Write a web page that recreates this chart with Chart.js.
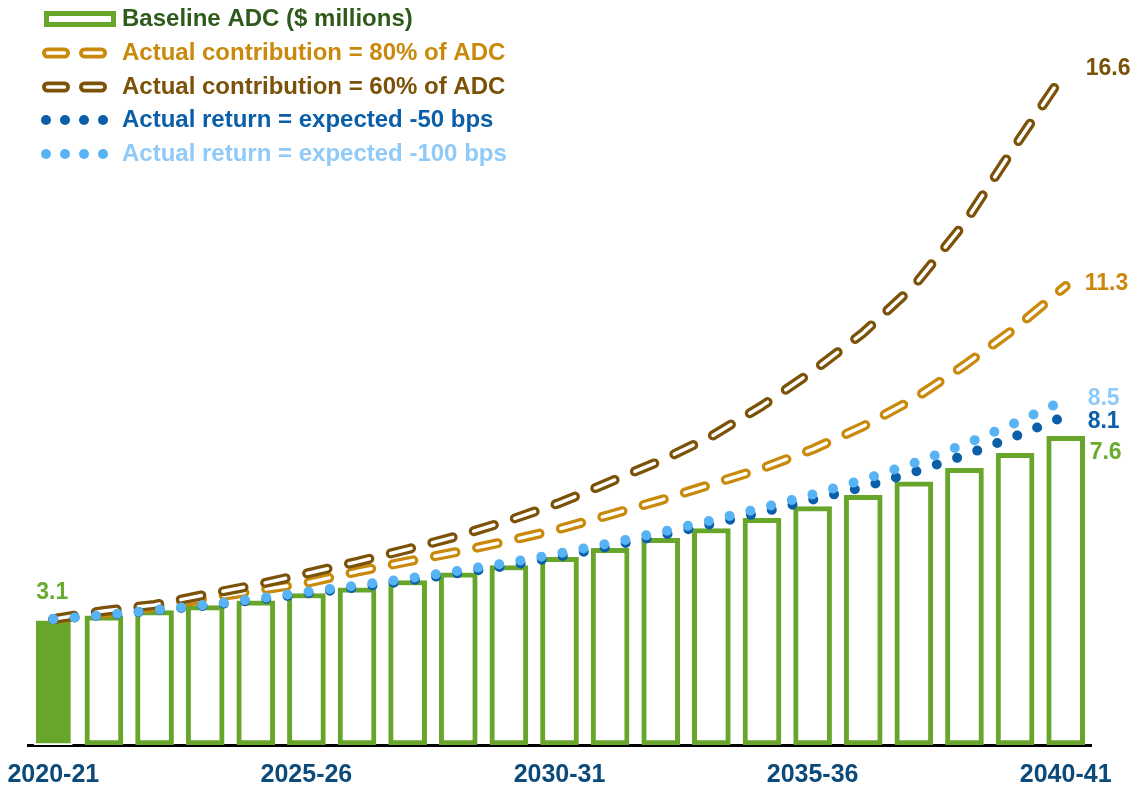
<!DOCTYPE html>
<html>
<head>
<meta charset="utf-8">
<script src="https://cdn.jsdelivr.net/npm/chart.js@4.4.1/dist/chart.umd.min.js"></script>
<style>
  html, body { margin: 0; padding: 0; background: #ffffff; }
  #wrap { width: 1138px; height: 787px; position: relative; }
  canvas { display: block; }
</style>
</head>
<body>
<div id="wrap"><canvas id="c" width="1138" height="787"></canvas></div>
<script>
// ---- DATA ----
const categories = ['2020-21','2021-22','2022-23','2023-24','2024-25','2025-26','2026-27','2027-28','2028-29','2029-30','2030-31','2031-32','2032-33','2033-34','2034-35','2035-36','2036-37','2037-38','2038-39','2039-40','2040-41'];
const tickLabels = ['2020-21','2025-26','2030-31','2035-36','2040-41'];
const baselineADC = [3.10,3.18,3.31,3.43,3.55,3.73,3.87,4.05,4.24,4.42,4.62,4.84,5.09,5.33,5.58,5.87,6.15,6.48,6.81,7.18,7.60];
const contrib80 = [3.10,3.25,3.40,3.60,3.80,3.99,4.27,4.52,4.76,5.03,5.32,5.67,6.03,6.42,6.81,7.28,7.85,8.52,9.35,10.26,11.30];
const contrib60 = [3.10,3.30,3.45,3.70,3.94,4.22,4.51,4.82,5.15,5.53,5.96,6.48,7.00,7.60,8.35,9.20,10.15,11.30,12.85,14.75,16.60];
const return50 = [3.10,3.19,3.31,3.43,3.57,3.73,3.88,4.04,4.23,4.42,4.64,4.89,5.16,5.44,5.73,6.04,6.35,6.72,7.13,7.60,8.10];
const return100 = [3.10,3.20,3.32,3.45,3.60,3.77,3.93,4.10,4.29,4.49,4.72,4.97,5.24,5.53,5.84,6.17,6.53,6.94,7.40,7.93,8.50];
const seriesNames = ['Baseline ADC ($ millions)','Actual contribution = 80% of ADC','Actual contribution = 60% of ADC','Actual return = expected -50 bps','Actual return = expected -100 bps'];

// ---- STYLE ----
const GREEN = '#67a62a', GREEN_TXT = '#6aab2e', GREEN_DARK = '#2e5b1c';
const ORANGE = '#c98a0c', BROWN = '#7b5207';
const BLUE = '#0b5fa8', LBLUE = '#58b3f5', LBLUE_TXT = '#8fcaf8';
const AXIS_TXT = '#0c4a79';
const FONT = '"Liberation Sans", Arial, Helvetica, sans-serif';
Chart.defaults.font.family = FONT;

const DASH = [21, 22];
const DOT = [0, 21.4];

// inner white stroke for hollow dashed lines
const hollowPlugin = {
  id: 'hollow',
  afterDatasetDraw(chart, args) {
    const ds = chart.data.datasets[args.index];
    if (!ds.hollow) return;
    const pts = args.meta.data;
    const ctx = chart.ctx;
    const a = chart.chartArea;
    ctx.save();
    ctx.beginPath();
    ctx.rect(a.left - 10, a.top - 10, a.right - a.left + 20, a.bottom - a.top + 20);
    ctx.clip();
    ctx.setLineDash(DASH);
    ctx.lineDashOffset = 0;
    ctx.lineCap = 'round';
    ctx.lineJoin = 'round';
    ctx.lineWidth = 3.5;
    ctx.strokeStyle = '#ffffff';
    ctx.beginPath();
    pts.forEach((p, i) => { if (i === 0) ctx.moveTo(p.x, p.y); else ctx.lineTo(p.x, p.y); });
    ctx.stroke();
    ctx.restore();
  }
};

// end labels + first bar label
const labelPlugin = {
  id: 'endLabels',
  afterDraw(chart) {
    const ctx = chart.ctx;
    ctx.save();
    ctx.font = 'bold 23px ' + FONT;
    ctx.textBaseline = 'middle';
    chart.data.datasets.forEach((ds, i) => {
      if (!ds.endLabel) return;
      const meta = chart.getDatasetMeta(i);
      const last = meta.data[meta.data.length - 1];
      const v = ds.data[ds.data.length - 1];
      ctx.fillStyle = ds.endLabel.color;
      ctx.textAlign = 'left';
      ctx.fillText(v.toFixed(1), last.x + ds.endLabel.dx, last.y + ds.endLabel.dy);
      if (ds.firstLabel) {
        const first = meta.data[0];
        ctx.textAlign = 'center';
        ctx.fillText(ds.data[0].toFixed(1), first.x - 1, first.y + ds.firstLabel.dy);
      }
    });
    ctx.restore();
  }
};

// legend drawn on canvas
const legendPlugin = {
  id: 'customLegend',
  afterDraw(chart) {
    const ctx = chart.ctx;
    const rows = [19, 53, 87, 120, 154];
    const txtColors = [GREEN_DARK, ORANGE, BROWN, BLUE, LBLUE_TXT];
    ctx.save();
    ctx.strokeStyle = GREEN; ctx.lineWidth = 5;
    ctx.strokeRect(46.5, rows[0] - 5.5, 67, 11);
    [[rows[1], ORANGE], [rows[2], BROWN]].forEach(([y, c]) => {
      ctx.lineCap = 'round';
      [[47.5, 64.5], [84.5, 101.5]].forEach(([x1, x2]) => {
        ctx.strokeStyle = c; ctx.lineWidth = 11;
        ctx.beginPath(); ctx.moveTo(x1, y); ctx.lineTo(x2, y); ctx.stroke();
        ctx.strokeStyle = '#ffffff'; ctx.lineWidth = 3.5;
        ctx.beginPath(); ctx.moveTo(x1, y); ctx.lineTo(x2, y); ctx.stroke();
      });
    });
    [[rows[3], BLUE], [rows[4], LBLUE]].forEach(([y, c]) => {
      ctx.fillStyle = c;
      [46, 65, 84, 103].forEach(x => { ctx.beginPath(); ctx.arc(x, y, 5, 0, Math.PI * 2); ctx.fill(); });
    });
    ctx.font = 'bold 24px ' + FONT;
    ctx.textBaseline = 'middle';
    ctx.textAlign = 'left';
    seriesNames.forEach((t, i) => { ctx.fillStyle = txtColors[i]; ctx.fillText(t, 122, rows[i]); });
    ctx.restore();
  }
};

const barBg = baselineADC.map((v, i) => i === 0 ? GREEN : '#ffffff');
const barBorder = baselineADC.map((v, i) => i === 0 ? '#ffffff' : GREEN);
const barBorderW = baselineADC.map((v, i) => i === 0 ? 2 : 5);

new Chart(document.getElementById('c'), {
  type: 'bar',
  data: {
    labels: categories,
    datasets: [
      { type: 'line', label: seriesNames[4], data: return100, borderColor: LBLUE, borderWidth: 10,
        borderDash: DOT, borderCapStyle: 'round', pointRadius: 0, tension: 0, fill: false, order: 1,
        endLabel: { color: LBLUE_TXT, dx: 22, dy: -1 } },
      { type: 'line', label: seriesNames[3], data: return50, borderColor: BLUE, borderWidth: 10,
        borderDash: DOT, borderCapStyle: 'round', pointRadius: 0, tension: 0, fill: false, order: 2,
        endLabel: { color: BLUE, dx: 22, dy: 6 } },
      { type: 'line', label: seriesNames[2], data: contrib60, borderColor: BROWN, borderWidth: 10,
        borderDash: DASH, borderCapStyle: 'round', borderJoinStyle: 'round', pointRadius: 0, tension: 0, fill: false, order: 3,
        hollow: true, endLabel: { color: BROWN, dx: 20, dy: -2.5 } },
      { type: 'line', label: seriesNames[1], data: contrib80, borderColor: ORANGE, borderWidth: 10,
        borderDash: DASH, borderCapStyle: 'round', borderJoinStyle: 'round', pointRadius: 0, tension: 0, fill: false, order: 4,
        hollow: true, endLabel: { color: ORANGE, dx: 19, dy: -2 } },
      { type: 'bar', label: seriesNames[0], data: baselineADC, backgroundColor: barBg, borderColor: barBorder,
        borderWidth: barBorderW, borderSkipped: false, barThickness: 38, order: 10,
        endLabel: { color: GREEN_TXT, dx: 24, dy: 16 }, firstLabel: { dy: -26 } }
    ]
  },
  options: {
    responsive: false,
    animation: false,
    events: [],
    layout: { padding: { left: 28, right: 47, top: 14, bottom: 0 } },
    plugins: { legend: { display: false }, tooltip: { enabled: false } },
    scales: {
      x: {
        z: 1,
        grid: { display: false, drawTicks: false },
        border: { display: true, color: '#000000', width: 3 },
        ticks: {
          autoSkip: false, maxRotation: 0, minRotation: 0, padding: 15,
          color: AXIS_TXT, font: { size: 25, weight: 'bold', family: FONT },
          callback: function(v, i) { return tickLabels.includes(categories[i]) ? categories[i] : ''; }
        },
        afterFit: function(s) { s.height = 42; s.paddingLeft = 0; s.paddingRight = 0; }
      },
      y: { display: false, min: 0, max: 18 }
    }
  },
  plugins: [hollowPlugin, labelPlugin, legendPlugin]
});
</script>
</body>
</html>
